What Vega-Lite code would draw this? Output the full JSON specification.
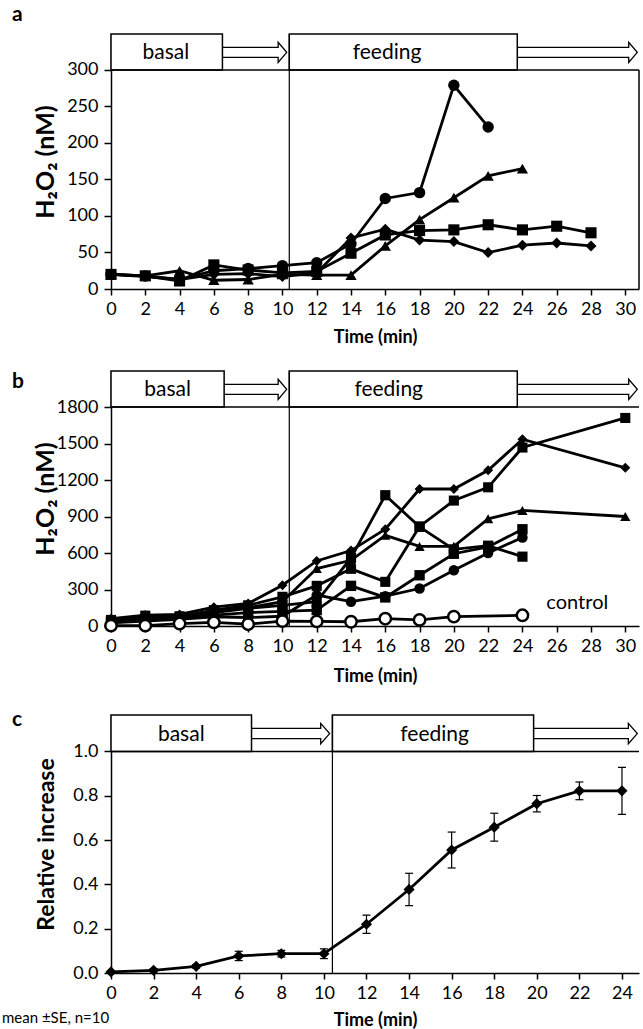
{
  "$schema": "https://vega.github.io/schema/vega-lite/v6.json",
  "background": "white",
  "padding": {"left": 2, "right": 0, "top": 4, "bottom": 0},
  "config": {
    "font": "Lato",
    "view": {"stroke": null},
    "axis": {"grid": false, "domainColor": "black", "domainWidth": 1.5, "tickColor": "black", "tickWidth": 1.5, "labelColor": "black", "titleColor": "black", "labelFontSize": 18, "titleFontSize": 22, "titleFontWeight": "bold", "labelFlush": false, "labelOverlap": false, "tickCount": 20},
    "title": {"color": "black", "fontWeight": "bold"},
    "text": {"color": "black"}
  },
  "resolve": {"scale": {"shape": "independent", "size": "independent"}},
  "datasets": {
    "a": [
      {"s": "A", "t": 0, "v": 20}, {"s": "A", "t": 2, "v": 18}, {"s": "A", "t": 4, "v": 13}, {"s": "A", "t": 6, "v": 25}, {"s": "A", "t": 8, "v": 28}, {"s": "A", "t": 10, "v": 32}, {"s": "A", "t": 12, "v": 36}, {"s": "A", "t": 14, "v": 62}, {"s": "A", "t": 16, "v": 124}, {"s": "A", "t": 18, "v": 132}, {"s": "A", "t": 20, "v": 279}, {"s": "A", "t": 22, "v": 222},
      {"s": "B", "t": 0, "v": 20}, {"s": "B", "t": 2, "v": 18}, {"s": "B", "t": 4, "v": 25}, {"s": "B", "t": 6, "v": 12}, {"s": "B", "t": 8, "v": 13}, {"s": "B", "t": 10, "v": 20}, {"s": "B", "t": 12, "v": 19}, {"s": "B", "t": 14, "v": 19}, {"s": "B", "t": 16, "v": 59}, {"s": "B", "t": 18, "v": 95}, {"s": "B", "t": 20, "v": 125}, {"s": "B", "t": 22, "v": 155}, {"s": "B", "t": 24, "v": 165},
      {"s": "C", "t": 0, "v": 20}, {"s": "C", "t": 2, "v": 18}, {"s": "C", "t": 4, "v": 11}, {"s": "C", "t": 6, "v": 33}, {"s": "C", "t": 8, "v": 26}, {"s": "C", "t": 10, "v": 22}, {"s": "C", "t": 12, "v": 24}, {"s": "C", "t": 14, "v": 49}, {"s": "C", "t": 16, "v": 74}, {"s": "C", "t": 18, "v": 80}, {"s": "C", "t": 20, "v": 81}, {"s": "C", "t": 22, "v": 88}, {"s": "C", "t": 24, "v": 81}, {"s": "C", "t": 26, "v": 86}, {"s": "C", "t": 28, "v": 77},
      {"s": "D", "t": 0, "v": 20}, {"s": "D", "t": 2, "v": 17}, {"s": "D", "t": 4, "v": 13}, {"s": "D", "t": 6, "v": 20}, {"s": "D", "t": 8, "v": 21}, {"s": "D", "t": 10, "v": 17}, {"s": "D", "t": 12, "v": 22}, {"s": "D", "t": 14, "v": 70}, {"s": "D", "t": 16, "v": 82}, {"s": "D", "t": 18, "v": 67}, {"s": "D", "t": 20, "v": 65}, {"s": "D", "t": 22, "v": 50}, {"s": "D", "t": 24, "v": 60}, {"s": "D", "t": 26, "v": 63}, {"s": "D", "t": 28, "v": 59}
    ],
    "b": [
      {"s": "1", "t": 0, "v": 60}, {"s": "1", "t": 2, "v": 90}, {"s": "1", "t": 4, "v": 95}, {"s": "1", "t": 6, "v": 155}, {"s": "1", "t": 8, "v": 185}, {"s": "1", "t": 10, "v": 335}, {"s": "1", "t": 12, "v": 535}, {"s": "1", "t": 14, "v": 620}, {"s": "1", "t": 16, "v": 795}, {"s": "1", "t": 18, "v": 1126}, {"s": "1", "t": 20, "v": 1126}, {"s": "1", "t": 22, "v": 1280}, {"s": "1", "t": 24, "v": 1535}, {"s": "1", "t": 30, "v": 1300},
      {"s": "2", "t": 0, "v": 50}, {"s": "2", "t": 2, "v": 85}, {"s": "2", "t": 4, "v": 80}, {"s": "2", "t": 6, "v": 130}, {"s": "2", "t": 8, "v": 170}, {"s": "2", "t": 10, "v": 240}, {"s": "2", "t": 12, "v": 330}, {"s": "2", "t": 14, "v": 470}, {"s": "2", "t": 16, "v": 363}, {"s": "2", "t": 18, "v": 818}, {"s": "2", "t": 20, "v": 1031}, {"s": "2", "t": 22, "v": 1140}, {"s": "2", "t": 24, "v": 1467}, {"s": "2", "t": 30, "v": 1710},
      {"s": "3", "t": 0, "v": 40}, {"s": "3", "t": 2, "v": 60}, {"s": "3", "t": 4, "v": 70}, {"s": "3", "t": 6, "v": 110}, {"s": "3", "t": 8, "v": 145}, {"s": "3", "t": 10, "v": 170}, {"s": "3", "t": 12, "v": 200}, {"s": "3", "t": 14, "v": 560}, {"s": "3", "t": 16, "v": 1075}, {"s": "3", "t": 18, "v": 815}, {"s": "3", "t": 20, "v": 630}, {"s": "3", "t": 22, "v": 660}, {"s": "3", "t": 24, "v": 570},
      {"s": "4", "t": 0, "v": 45}, {"s": "4", "t": 2, "v": 70}, {"s": "4", "t": 4, "v": 75}, {"s": "4", "t": 6, "v": 120}, {"s": "4", "t": 8, "v": 150}, {"s": "4", "t": 10, "v": 200}, {"s": "4", "t": 12, "v": 472}, {"s": "4", "t": 14, "v": 540}, {"s": "4", "t": 16, "v": 745}, {"s": "4", "t": 18, "v": 654}, {"s": "4", "t": 20, "v": 655}, {"s": "4", "t": 22, "v": 881}, {"s": "4", "t": 24, "v": 950}, {"s": "4", "t": 30, "v": 900},
      {"s": "5", "t": 0, "v": 30}, {"s": "5", "t": 2, "v": 50}, {"s": "5", "t": 4, "v": 60}, {"s": "5", "t": 6, "v": 90}, {"s": "5", "t": 8, "v": 110}, {"s": "5", "t": 10, "v": 120}, {"s": "5", "t": 12, "v": 131}, {"s": "5", "t": 14, "v": 330}, {"s": "5", "t": 16, "v": 235}, {"s": "5", "t": 18, "v": 417}, {"s": "5", "t": 20, "v": 594}, {"s": "5", "t": 22, "v": 650}, {"s": "5", "t": 24, "v": 795},
      {"s": "6", "t": 0, "v": 25}, {"s": "6", "t": 2, "v": 40}, {"s": "6", "t": 4, "v": 55}, {"s": "6", "t": 6, "v": 76}, {"s": "6", "t": 8, "v": 70}, {"s": "6", "t": 10, "v": 80}, {"s": "6", "t": 12, "v": 254}, {"s": "6", "t": 14, "v": 200}, {"s": "6", "t": 16, "v": 245}, {"s": "6", "t": 18, "v": 308}, {"s": "6", "t": 20, "v": 458}, {"s": "6", "t": 22, "v": 600}, {"s": "6", "t": 24, "v": 728},
      {"s": "control", "t": 0, "v": 3}, {"s": "control", "t": 2, "v": 3}, {"s": "control", "t": 4, "v": 20}, {"s": "control", "t": 6, "v": 30}, {"s": "control", "t": 8, "v": 15}, {"s": "control", "t": 10, "v": 40}, {"s": "control", "t": 12, "v": 38}, {"s": "control", "t": 14, "v": 35}, {"s": "control", "t": 16, "v": 60}, {"s": "control", "t": 18, "v": 50}, {"s": "control", "t": 20, "v": 77}, {"s": "control", "t": 24, "v": 88}
    ],
    "c": [
      {"t": 0, "m": 0.005, "lo": 0.0, "hi": 0.01}, {"t": 2, "m": 0.012, "lo": 0.005, "hi": 0.019}, {"t": 4, "m": 0.03, "lo": 0.022, "hi": 0.038}, {"t": 6, "m": 0.077, "lo": 0.056, "hi": 0.098}, {"t": 8, "m": 0.087, "lo": 0.072, "hi": 0.102}, {"t": 10, "m": 0.087, "lo": 0.065, "hi": 0.109}, {"t": 12, "m": 0.22, "lo": 0.179, "hi": 0.261}, {"t": 14, "m": 0.377, "lo": 0.304, "hi": 0.45}, {"t": 16, "m": 0.555, "lo": 0.474, "hi": 0.636}, {"t": 18, "m": 0.658, "lo": 0.595, "hi": 0.721}, {"t": 20, "m": 0.764, "lo": 0.727, "hi": 0.801}, {"t": 22, "m": 0.822, "lo": 0.782, "hi": 0.862}, {"t": 24, "m": 0.822, "lo": 0.716, "hi": 0.928}
    ],
    "arrA": [
      {"g": 1, "o": 1, "t": 6.5, "v": 331.1}, {"g": 1, "o": 2, "t": 9.75, "v": 331.1}, {"g": 1, "o": 3, "t": 9.75, "v": 338.0}, {"g": 1, "o": 4, "t": 10.25, "v": 324.2}, {"g": 1, "o": 5, "t": 9.75, "v": 310.4}, {"g": 1, "o": 6, "t": 9.75, "v": 317.3}, {"g": 1, "o": 7, "t": 6.5, "v": 317.3},
      {"g": 2, "o": 1, "t": 23.7, "v": 331.1}, {"g": 2, "o": 2, "t": 30.2, "v": 331.1}, {"g": 2, "o": 3, "t": 30.2, "v": 338.0}, {"g": 2, "o": 4, "t": 30.7, "v": 324.2}, {"g": 2, "o": 5, "t": 30.2, "v": 310.4}, {"g": 2, "o": 6, "t": 30.2, "v": 317.3}, {"g": 2, "o": 7, "t": 23.7, "v": 317.3}
    ],
    "arrB": [
      {"g": 1, "o": 1, "t": 6.6, "v": 1986.5}, {"g": 1, "o": 2, "t": 9.75, "v": 1986.5}, {"g": 1, "o": 3, "t": 9.75, "v": 2028}, {"g": 1, "o": 4, "t": 10.25, "v": 1945}, {"g": 1, "o": 5, "t": 9.75, "v": 1862}, {"g": 1, "o": 6, "t": 9.75, "v": 1903.6}, {"g": 1, "o": 7, "t": 6.6, "v": 1903.6},
      {"g": 2, "o": 1, "t": 23.7, "v": 1986.5}, {"g": 2, "o": 2, "t": 30.2, "v": 1986.5}, {"g": 2, "o": 3, "t": 30.2, "v": 2028}, {"g": 2, "o": 4, "t": 30.7, "v": 1945}, {"g": 2, "o": 5, "t": 30.2, "v": 1862}, {"g": 2, "o": 6, "t": 30.2, "v": 1903.6}, {"g": 2, "o": 7, "t": 23.7, "v": 1903.6}
    ],
    "arrC": [
      {"g": 1, "o": 1, "t": 6.6, "v": 1.1035}, {"g": 1, "o": 2, "t": 9.85, "v": 1.1035}, {"g": 1, "o": 3, "t": 9.85, "v": 1.1265}, {"g": 1, "o": 4, "t": 10.27, "v": 1.0805}, {"g": 1, "o": 5, "t": 9.85, "v": 1.0345}, {"g": 1, "o": 6, "t": 9.85, "v": 1.0575}, {"g": 1, "o": 7, "t": 6.6, "v": 1.0575},
      {"g": 2, "o": 1, "t": 19.85, "v": 1.1035}, {"g": 2, "o": 2, "t": 24.3, "v": 1.1035}, {"g": 2, "o": 3, "t": 24.3, "v": 1.1265}, {"g": 2, "o": 4, "t": 24.72, "v": 1.0805}, {"g": 2, "o": 5, "t": 24.3, "v": 1.0345}, {"g": 2, "o": 6, "t": 24.3, "v": 1.0575}, {"g": 2, "o": 7, "t": 19.85, "v": 1.0575}
    ]
  },
  "title": {"text": "mean ±SE, n=10", "orient": "bottom", "anchor": "start", "frame": "bounds", "fontSize": 15, "fontWeight": "normal", "offset": 0, "dy": -18, "dx": -10},
  "spacing": 24,
  "vconcat": [
    {
      "width": 528, "height": 255,
      "title": {"text": "a", "anchor": "start", "frame": "bounds", "fontSize": 21, "baseline": "alphabetic", "offset": 13, "dy": 22, "dx": -21},
      "layer": [
        {"data": {"name": "a"}, "mark": {"type": "line", "color": "black", "strokeWidth": 2.8},
         "encoding": {
           "x": {"field": "t", "type": "quantitative", "scale": {"domain": [0, 30.8], "nice": false, "zero": false}, "axis": {"values": [0,2,4,6,8,10,12,14,16,18,20,22,24,26,28,30], "tickCount": 20, "labelOverlap": false, "labelFontSize": 18, "title": "Time (min)", "titleFontSize": 18, "titlePadding": 10, "tickSize": 6, "labelPadding": 5}},
           "y": {"field": "v", "type": "quantitative", "scale": {"domain": [0, 349.3], "nice": false}, "axis": {"values": [0,50,100,150,200,250,300], "labelOverlap": false, "labelFontSize": 18, "title": "H₂O₂ (nM)", "titleFontSize": 25, "tickSize": 7, "labelPadding": 6, "minExtent": 50, "maxExtent": 50, "titlePadding": 3}},
           "detail": {"field": "s"}}},
        {"data": {"values": [{}]}, "mark": {"type": "rect", "fill": "white", "stroke": "black", "strokeWidth": 1.5},
         "encoding": {"x": {"datum": 0, "type": "quantitative"}, "x2": {"datum": 6.5}, "y": {"datum": 300, "type": "quantitative"}, "y2": {"datum": 349.3}}},
        {"data": {"values": [{}]}, "mark": {"type": "rect", "fill": "white", "stroke": "black", "strokeWidth": 1.5},
         "encoding": {"x": {"datum": 10.4, "type": "quantitative"}, "x2": {"datum": 23.7}, "y": {"datum": 300, "type": "quantitative"}, "y2": {"datum": 349.3}}},
        {"data": {"name": "arrA"}, "mark": {"type": "line", "color": "black", "strokeWidth": 1.3},
         "encoding": {"x": {"field": "t", "type": "quantitative"}, "y": {"field": "v", "type": "quantitative"}, "order": {"field": "o"}, "detail": {"field": "g"}}},
        {"data": {"values": [{}]}, "mark": {"type": "text", "text": "basal", "fontSize": 21, "baseline": "middle", "align": "center"},
         "encoding": {"x": {"datum": 3.2, "type": "quantitative"}, "y": {"datum": 322.7, "type": "quantitative"}}},
        {"data": {"values": [{}]}, "mark": {"type": "text", "text": "feeding", "fontSize": 21, "baseline": "middle", "align": "center"},
         "encoding": {"x": {"datum": 16.1, "type": "quantitative"}, "y": {"datum": 322.7, "type": "quantitative"}}},
        {"data": {"values": [{}]}, "mark": {"type": "rule", "color": "black", "strokeWidth": 1.5},
         "encoding": {"x": {"datum": 0, "type": "quantitative"}, "x2": {"datum": 30.8}, "y": {"datum": 300, "type": "quantitative"}}},
        {"data": {"values": [{}]}, "mark": {"type": "rule", "color": "black", "strokeWidth": 1.2},
         "encoding": {"x": {"datum": 10.4, "type": "quantitative"}, "y": {"datum": 0, "type": "quantitative"}, "y2": {"datum": 349.3}}},
        {"data": {"values": [{}]}, "mark": {"type": "rule", "color": "black", "strokeWidth": 1.5},
         "encoding": {"x": {"datum": 30.8, "type": "quantitative"}, "y": {"datum": 0, "type": "quantitative"}, "y2": {"datum": 300}}},
        {"data": {"name": "a"}, "mark": {"type": "point", "filled": true, "color": "black", "opacity": 1},
         "encoding": {
           "x": {"field": "t", "type": "quantitative"}, "y": {"field": "v", "type": "quantitative"},
           "shape": {"field": "s", "scale": {"domain": ["A", "B", "C", "D"], "range": ["circle", "triangle-up", "square", "diamond"]}, "legend": null},
           "size": {"field": "s", "scale": {"domain": ["A", "B", "C", "D"], "range": [130, 120, 115, 110]}, "legend": null}}}
      ]
    },
    {
      "width": 528, "height": 255,
      "title": {"text": "b", "anchor": "start", "frame": "bounds", "fontSize": 21, "baseline": "alphabetic", "offset": 8, "dy": 47, "dx": -21},
      "layer": [
        {"data": {"name": "b"}, "mark": {"type": "line", "color": "black", "strokeWidth": 2.8},
         "encoding": {
           "x": {"field": "t", "type": "quantitative", "scale": {"domain": [0, 30.8], "nice": false, "zero": false}, "axis": {"values": [0,2,4,6,8,10,12,14,16,18,20,22,24,26,28,30], "tickCount": 20, "labelOverlap": false, "labelFontSize": 18, "title": "Time (min)", "titleFontSize": 18, "titlePadding": 12, "tickSize": 6, "labelPadding": 5}},
           "y": {"field": "v", "type": "quantitative", "scale": {"domain": [0, 2096], "nice": false}, "axis": {"values": [0,300,600,900,1200,1500,1800], "format": "d", "labelOverlap": false, "labelFontSize": 18, "title": "H₂O₂ (nM)", "titleFontSize": 25, "tickSize": 7, "labelPadding": 6, "minExtent": 50, "maxExtent": 50, "titlePadding": 3}},
           "detail": {"field": "s"}}},
        {"data": {"values": [{}]}, "mark": {"type": "rect", "fill": "white", "stroke": "black", "strokeWidth": 1.5},
         "encoding": {"x": {"datum": 0, "type": "quantitative"}, "x2": {"datum": 6.6}, "y": {"datum": 1800, "type": "quantitative"}, "y2": {"datum": 2096}}},
        {"data": {"values": [{}]}, "mark": {"type": "rect", "fill": "white", "stroke": "black", "strokeWidth": 1.5},
         "encoding": {"x": {"datum": 10.4, "type": "quantitative"}, "x2": {"datum": 23.7}, "y": {"datum": 1800, "type": "quantitative"}, "y2": {"datum": 2096}}},
        {"data": {"name": "arrB"}, "mark": {"type": "line", "color": "black", "strokeWidth": 1.3},
         "encoding": {"x": {"field": "t", "type": "quantitative"}, "y": {"field": "v", "type": "quantitative"}, "order": {"field": "o"}, "detail": {"field": "g"}}},
        {"data": {"values": [{}]}, "mark": {"type": "text", "text": "basal", "fontSize": 21, "baseline": "middle", "align": "center"},
         "encoding": {"x": {"datum": 3.3, "type": "quantitative"}, "y": {"datum": 1936, "type": "quantitative"}}},
        {"data": {"values": [{}]}, "mark": {"type": "text", "text": "feeding", "fontSize": 21, "baseline": "middle", "align": "center"},
         "encoding": {"x": {"datum": 16.2, "type": "quantitative"}, "y": {"datum": 1936, "type": "quantitative"}}},
        {"data": {"values": [{}]}, "mark": {"type": "text", "text": "control", "fontSize": 20, "baseline": "middle", "align": "center"},
         "encoding": {"x": {"datum": 27.2, "type": "quantitative"}, "y": {"datum": 185, "type": "quantitative"}}},
        {"data": {"values": [{}]}, "mark": {"type": "rule", "color": "black", "strokeWidth": 1.5},
         "encoding": {"x": {"datum": 0, "type": "quantitative"}, "x2": {"datum": 30.8}, "y": {"datum": 1800, "type": "quantitative"}}},
        {"data": {"values": [{}]}, "mark": {"type": "rule", "color": "black", "strokeWidth": 1.2},
         "encoding": {"x": {"datum": 10.4, "type": "quantitative"}, "y": {"datum": 0, "type": "quantitative"}, "y2": {"datum": 2096}}},
        {"data": {"name": "b"}, "transform": [{"filter": "datum.s !== 'control'"}], "mark": {"type": "point", "filled": true, "color": "black", "opacity": 1},
         "encoding": {
           "x": {"field": "t", "type": "quantitative"}, "y": {"field": "v", "type": "quantitative"},
           "shape": {"field": "s", "scale": {"domain": ["1", "2", "3", "4", "5", "6"], "range": ["diamond", "square", "square", "triangle-up", "square", "circle"]}, "legend": null},
           "size": {"field": "s", "scale": {"domain": ["1", "2", "3", "4", "5", "6"], "range": [100, 110, 110, 115, 110, 125]}, "legend": null}}},
        {"data": {"name": "b"}, "transform": [{"filter": "datum.s === 'control'"}], "mark": {"type": "point", "shape": "circle", "filled": true, "fill": "white", "stroke": "black", "strokeWidth": 2.5, "size": 130, "opacity": 1},
         "encoding": {"x": {"field": "t", "type": "quantitative"}, "y": {"field": "v", "type": "quantitative"}}}
      ]
    },
    {
      "width": 528, "height": 258,
      "title": {"text": "c", "anchor": "start", "frame": "bounds", "fontSize": 21, "baseline": "alphabetic", "offset": 8, "dy": 41, "dx": -23},
      "layer": [
        {"data": {"name": "c"}, "mark": {"type": "line", "color": "black", "strokeWidth": 2.8},
         "encoding": {
           "x": {"field": "t", "type": "quantitative", "scale": {"domain": [0, 24.8], "nice": false, "zero": false}, "axis": {"values": [0,2,4,6,8,10,12,14,16,18,20,22,24], "tickCount": 20, "labelOverlap": false, "labelFontSize": 18, "title": "Time (min)", "titleFontSize": 18, "titlePadding": 9, "tickSize": 6, "labelPadding": 5}},
           "y": {"field": "m", "type": "quantitative", "scale": {"domain": [0, 1.1643], "nice": false}, "axis": {"values": [0, 0.2, 0.4, 0.6, 0.8, 1.0], "format": ".1f", "labelOverlap": false, "labelFontSize": 18, "title": "Relative increase", "titleFontSize": 23, "tickSize": 7, "labelPadding": 6, "minExtent": 50, "maxExtent": 50, "titlePadding": 3}}}},
        {"data": {"values": [{}]}, "mark": {"type": "rect", "fill": "white", "stroke": "black", "strokeWidth": 1.5},
         "encoding": {"x": {"datum": 0, "type": "quantitative"}, "x2": {"datum": 6.6}, "y": {"datum": 1.0, "type": "quantitative"}, "y2": {"datum": 1.1643}}},
        {"data": {"values": [{}]}, "mark": {"type": "rect", "fill": "white", "stroke": "black", "strokeWidth": 1.5},
         "encoding": {"x": {"datum": 10.4, "type": "quantitative"}, "x2": {"datum": 19.85}, "y": {"datum": 1.0, "type": "quantitative"}, "y2": {"datum": 1.1643}}},
        {"data": {"name": "arrC"}, "mark": {"type": "line", "color": "black", "strokeWidth": 1.3},
         "encoding": {"x": {"field": "t", "type": "quantitative"}, "y": {"field": "v", "type": "quantitative"}, "order": {"field": "o"}, "detail": {"field": "g"}}},
        {"data": {"values": [{}]}, "mark": {"type": "text", "text": "basal", "fontSize": 21, "baseline": "middle", "align": "center"},
         "encoding": {"x": {"datum": 3.3, "type": "quantitative"}, "y": {"datum": 1.076, "type": "quantitative"}}},
        {"data": {"values": [{}]}, "mark": {"type": "text", "text": "feeding", "fontSize": 21, "baseline": "middle", "align": "center"},
         "encoding": {"x": {"datum": 15.2, "type": "quantitative"}, "y": {"datum": 1.076, "type": "quantitative"}}},
        {"data": {"values": [{}]}, "mark": {"type": "rule", "color": "black", "strokeWidth": 1.5},
         "encoding": {"x": {"datum": 0, "type": "quantitative"}, "x2": {"datum": 24.8}, "y": {"datum": 1.0, "type": "quantitative"}}},
        {"data": {"values": [{}]}, "mark": {"type": "rule", "color": "black", "strokeWidth": 1.2},
         "encoding": {"x": {"datum": 10.4, "type": "quantitative"}, "y": {"datum": 0, "type": "quantitative"}, "y2": {"datum": 1.1643}}},
        {"data": {"name": "c"}, "mark": {"type": "rule", "color": "black", "strokeWidth": 1.2},
         "encoding": {"x": {"field": "t", "type": "quantitative"}, "y": {"field": "lo", "type": "quantitative"}, "y2": {"field": "hi"}}},
        {"data": {"name": "c"}, "mark": {"type": "tick", "orient": "horizontal", "color": "black", "thickness": 1.2, "size": 8, "opacity": 1},
         "encoding": {"x": {"field": "t", "type": "quantitative"}, "y": {"field": "lo", "type": "quantitative"}}},
        {"data": {"name": "c"}, "mark": {"type": "tick", "orient": "horizontal", "color": "black", "thickness": 1.2, "size": 8, "opacity": 1},
         "encoding": {"x": {"field": "t", "type": "quantitative"}, "y": {"field": "hi", "type": "quantitative"}}},
        {"data": {"name": "c"}, "mark": {"type": "point", "shape": "diamond", "filled": true, "color": "black", "size": 125, "opacity": 1},
         "encoding": {"x": {"field": "t", "type": "quantitative"}, "y": {"field": "m", "type": "quantitative"}}}
      ]
    }
  ]
}
